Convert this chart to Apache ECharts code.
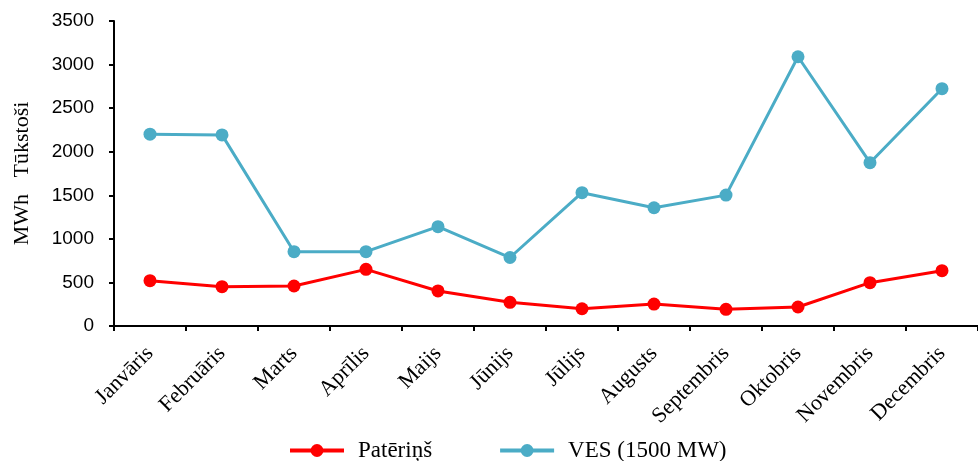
<!DOCTYPE html>
<html>
<head>
<meta charset="utf-8">
<script src="https://cdn.jsdelivr.net/npm/echarts@6/dist/echarts.min.js"></script>
<style>html,body{margin:0;padding:0;background:#fff}#c{width:978px;height:461px}</style>
</head>
<body>
<div id="c"></div>
<script>
var months = ['Janvāris','Februāris','Marts','Aprīlis','Maijs','Jūnijs','Jūlijs','Augusts','Septembris','Oktobris','Novembris','Decembris'];
var consumption = [520, 451, 459, 650, 402, 272, 198, 252, 191, 218, 497, 635];
var wind = [2201, 2193, 853, 853, 1140, 786, 1530, 1357, 1502, 3090, 1874, 2723];
var yTicks = {min: 0, max: 3500, interval: 500};

var chart = echarts.init(document.getElementById('c'));
chart.setOption({
  animation: false,
  backgroundColor: '#fff',
  grid: {left: 114, right: 0, top: 21, bottom: 135, containLabel: false},
  legend: {
    left: 283, top: 434,
    itemWidth: 54, itemHeight: 16, itemGap: 66,
    lineStyle: {width: 4},
    textStyle: {fontFamily: 'Liberation Serif', fontSize: 23, color: '#000', padding: [0,0,0,9]},
    data: ['Patēriņš', 'VES (1500 MW)']
  },
  xAxis: {
    type: 'category', data: months, boundaryGap: true,
    axisLine: {lineStyle: {color: '#000', width: 2}},
    axisTick: {show: true, length: 5, lineStyle: {color: '#000', width: 2}},
    axisLabel: {rotate: 45, fontFamily: 'Liberation Serif', fontSize: 22, color: '#000', margin: 24, interval: 0}
  },
  yAxis: {
    type: 'value', min: yTicks.min, max: yTicks.max, interval: yTicks.interval,
    name: 'MWh   Tūkstoši', nameLocation: 'middle', nameGap: 81,
    nameTextStyle: {fontFamily: 'Liberation Serif', fontSize: 22, color: '#000'},
    axisLine: {show: true, lineStyle: {color: '#000', width: 2}},
    axisTick: {show: true, length: 5, lineStyle: {color: '#000', width: 2}},
    splitLine: {show: false},
    axisLabel: {fontFamily: 'Liberation Sans', fontSize: 19, color: '#000', margin: 20,
      formatter: function (v) { return String(v); }}
  },
  series: [
    {name: 'Patēriņš', type: 'line', data: consumption, symbol: 'circle', symbolSize: 13,
     lineStyle: {color: '#FF0000', width: 3}, itemStyle: {color: '#FF0000'}},
    {name: 'VES (1500 MW)', type: 'line', data: wind, symbol: 'circle', symbolSize: 13,
     lineStyle: {color: '#4BACC6', width: 3}, itemStyle: {color: '#4BACC6'}}
  ]
});
</script>
</body>
</html>
